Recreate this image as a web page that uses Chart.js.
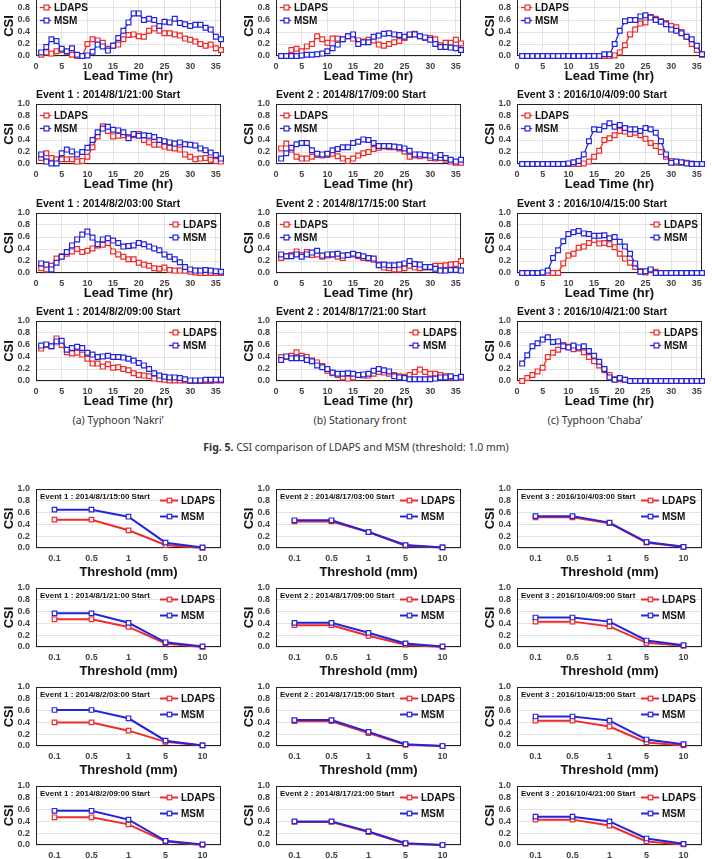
<!DOCTYPE html>
<html>
<head>
<meta charset="utf-8">
<title>CSI comparison of LDAPS and MSM</title>
<script src="https://cdn.jsdelivr.net/npm/chart.js@4.4.1/dist/chart.umd.min.js"></script>
<style>
  body { margin: 0; background: #fff; }
  #page { position: relative; width: 712px; height: 859px; overflow: hidden; }
  #page canvas { position: absolute; }
  .cap { position: absolute; font-family: "Noto Sans", sans-serif; font-size: 10.5px; color: #333; white-space: nowrap; transform: translateX(-50%); }
</style>
</head>
<body>
<div id="page">
  <div class="cap" style="left:118px; top:413px">(a) Typhoon ‘Nakri’</div>
  <div class="cap" style="left:360px; top:413px">(b) Stationary front</div>
  <div class="cap" style="left:595px; top:413px">(c) Typhoon ‘Chaba’</div>
  <div class="cap" style="left:356px; top:440px"><b>Fig. 5.</b> CSI comparison of LDAPS and MSM (threshold: 1.0 mm)</div>
</div>
<script>
// x values
const leadHours = [1,2,3,4,5,6,7,8,9,10,11,12,13,14,15,16,17,18,19,20,21,22,23,24,25,26,27,28,29,30,31,32,33,34,35,36];
const thresholds = ['0.1', '0.5', '1', '5', '10'];

const event1Starts = ['Event 1 : 2014/8/1/15:00 Start', 'Event 1 : 2014/8/1/21:00 Start', 'Event 1 : 2014/8/2/03:00 Start', 'Event 1 : 2014/8/2/09:00 Start'];
const event2Starts = ['Event 2 : 2014/8/17/03:00 Start', 'Event 2 : 2014/8/17/09:00 Start', 'Event 2 : 2014/8/17/15:00 Start', 'Event 2 : 2014/8/17/21:00 Start'];
const event3Starts = ['Event 3 : 2016/10/4/03:00 Start', 'Event 3 : 2016/10/4/09:00 Start', 'Event 3 : 2016/10/4/15:00 Start', 'Event 3 : 2016/10/4/21:00 Start'];

// Fig. 5 - CSI by lead time (threshold 1.0 mm)
const leadLdapsE1a = [0.02,0.06,0.04,0.08,0.10,0.07,0.02,0.00,0.00,0.20,0.28,0.26,0.22,0.12,0.17,0.19,0.28,0.35,0.36,0.33,0.32,0.42,0.46,0.42,0.38,0.38,0.36,0.34,0.29,0.27,0.24,0.20,0.17,0.19,0.13,0.10];
const leadMsmE1a   = [0.06,0.15,0.28,0.25,0.12,0.08,0.13,0.02,0.00,0.01,0.07,0.19,0.16,0.09,0.17,0.30,0.42,0.56,0.71,0.71,0.60,0.62,0.60,0.50,0.57,0.56,0.62,0.55,0.53,0.50,0.52,0.52,0.47,0.44,0.32,0.28];
const leadLdapsE1b = [0.10,0.18,0.10,0.08,0.08,0.08,0.08,0.04,0.05,0.12,0.28,0.46,0.63,0.55,0.46,0.47,0.48,0.45,0.48,0.50,0.40,0.36,0.32,0.32,0.29,0.27,0.26,0.24,0.16,0.12,0.08,0.09,0.10,0.07,0.05,0.04];
const leadMsmE1b   = [0.16,0.04,0.01,0.01,0.18,0.24,0.21,0.16,0.20,0.27,0.40,0.53,0.59,0.62,0.57,0.56,0.53,0.43,0.50,0.47,0.48,0.47,0.45,0.40,0.38,0.36,0.34,0.36,0.33,0.32,0.31,0.26,0.23,0.19,0.15,0.09];
const leadLdapsE1c = [0.08,0.06,0.12,0.24,0.28,0.32,0.36,0.40,0.35,0.37,0.41,0.46,0.47,0.50,0.36,0.31,0.27,0.23,0.23,0.17,0.14,0.12,0.08,0.07,0.09,0.05,0.04,0.04,0.04,0.02,0.01,0.00,0.00,0.00,0.00,0.00];
const leadMsmE1c   = [0.16,0.14,0.06,0.17,0.27,0.35,0.46,0.56,0.64,0.69,0.59,0.48,0.56,0.58,0.54,0.50,0.44,0.45,0.46,0.50,0.48,0.44,0.41,0.38,0.31,0.27,0.23,0.18,0.10,0.06,0.04,0.04,0.05,0.04,0.03,0.02];
const leadLdapsE1d = [0.54,0.60,0.58,0.71,0.60,0.48,0.46,0.47,0.44,0.37,0.29,0.29,0.24,0.28,0.22,0.23,0.20,0.18,0.13,0.10,0.09,0.08,0.04,0.03,0.02,0.01,0.01,0.01,0.01,0.00,0.00,0.00,0.00,0.00,0.01,0.01];
const leadMsmE1d   = [0.59,0.61,0.58,0.66,0.67,0.52,0.55,0.57,0.55,0.47,0.44,0.40,0.41,0.42,0.40,0.40,0.39,0.37,0.34,0.30,0.26,0.20,0.13,0.09,0.07,0.06,0.06,0.05,0.03,0.01,0.01,0.01,0.02,0.02,0.02,0.02];

const leadLdapsE2a = [0.00,0.00,0.10,0.12,0.08,0.16,0.20,0.33,0.28,0.22,0.29,0.29,0.28,0.33,0.29,0.26,0.24,0.27,0.26,0.19,0.17,0.20,0.23,0.25,0.30,0.35,0.37,0.33,0.30,0.30,0.28,0.18,0.22,0.22,0.27,0.21];
const leadMsmE2a   = [0.00,0.00,0.00,0.00,0.01,0.02,0.02,0.03,0.04,0.08,0.13,0.19,0.28,0.33,0.36,0.20,0.23,0.23,0.32,0.34,0.37,0.38,0.36,0.35,0.32,0.36,0.36,0.33,0.31,0.27,0.20,0.15,0.15,0.14,0.13,0.10];
const leadLdapsE2b = [0.26,0.34,0.24,0.12,0.09,0.09,0.12,0.15,0.14,0.15,0.17,0.13,0.09,0.05,0.09,0.14,0.18,0.20,0.25,0.27,0.29,0.28,0.28,0.26,0.21,0.12,0.14,0.13,0.14,0.10,0.09,0.10,0.07,0.04,0.02,0.02];
const leadMsmE2b   = [0.09,0.18,0.27,0.33,0.35,0.35,0.23,0.17,0.16,0.17,0.23,0.25,0.28,0.28,0.35,0.37,0.41,0.40,0.35,0.30,0.30,0.30,0.29,0.28,0.26,0.22,0.16,0.16,0.15,0.14,0.11,0.15,0.10,0.07,0.04,0.07];
const leadLdapsE2c = [0.25,0.28,0.30,0.36,0.30,0.35,0.30,0.31,0.27,0.29,0.31,0.27,0.25,0.30,0.31,0.28,0.25,0.24,0.22,0.14,0.09,0.08,0.06,0.06,0.08,0.12,0.09,0.08,0.09,0.09,0.12,0.12,0.13,0.14,0.15,0.20];
const leadMsmE2c   = [0.31,0.28,0.28,0.31,0.27,0.31,0.34,0.37,0.29,0.31,0.31,0.32,0.29,0.30,0.32,0.30,0.28,0.25,0.24,0.13,0.14,0.13,0.13,0.14,0.16,0.20,0.15,0.14,0.10,0.10,0.07,0.04,0.04,0.05,0.05,0.04];
const leadLdapsE2d = [0.40,0.40,0.42,0.48,0.42,0.40,0.34,0.31,0.25,0.17,0.13,0.10,0.06,0.04,0.06,0.10,0.09,0.09,0.12,0.15,0.14,0.12,0.10,0.08,0.07,0.10,0.15,0.19,0.15,0.12,0.12,0.10,0.08,0.06,0.05,0.05];
const leadMsmE2d   = [0.35,0.41,0.38,0.38,0.38,0.35,0.33,0.26,0.23,0.20,0.14,0.12,0.12,0.13,0.12,0.10,0.11,0.12,0.17,0.20,0.18,0.16,0.08,0.06,0.05,0.03,0.03,0.03,0.03,0.03,0.04,0.06,0.06,0.08,0.05,0.07];

const leadLdapsE3a = [0,0,0,0,0,0,0,0,0,0,0,0,0,0,0,0,0,0,0.01,0.06,0.18,0.36,0.44,0.54,0.56,0.65,0.62,0.58,0.55,0.50,0.48,0.40,0.32,0.20,0.10,0.02];
const leadMsmE3a   = [0,0,0,0,0,0,0,0,0,0,0,0,0,0,0,0,0.03,0.03,0.20,0.42,0.58,0.60,0.60,0.66,0.68,0.64,0.60,0.57,0.53,0.44,0.42,0.38,0.32,0.28,0.17,0.03];
const leadLdapsE3b = [0,0,0,0,0,0,0,0,0,0,0,0,0.01,0.04,0.12,0.22,0.40,0.43,0.48,0.55,0.54,0.50,0.52,0.48,0.42,0.35,0.30,0.20,0.12,0.05,0.02,0.02,0.02,0.01,0,0];
const leadMsmE3b   = [0,0,0,0,0,0,0,0,0,0.01,0.03,0.05,0.16,0.38,0.58,0.57,0.63,0.68,0.62,0.65,0.60,0.58,0.58,0.55,0.60,0.58,0.52,0.38,0.16,0.02,0.04,0.03,0.01,0,0,0];
const leadLdapsE3c = [0,0,0,0,0,0,0,0,0.16,0.29,0.32,0.42,0.44,0.50,0.55,0.49,0.50,0.48,0.43,0.32,0.24,0.17,0.10,0.03,0.01,0.05,0.02,0,0,0,0,0,0,0,0,0];
const leadMsmE3c   = [0,0,0,0,0.01,0.04,0.25,0.38,0.53,0.65,0.68,0.70,0.66,0.65,0.62,0.62,0.63,0.58,0.60,0.52,0.44,0.32,0.16,0.02,0.03,0.06,0,0,0,0,0,0,0,0,0,0];
const leadLdapsE3d = [0.00,0.05,0.10,0.16,0.22,0.40,0.47,0.52,0.60,0.57,0.53,0.54,0.48,0.40,0.33,0.26,0.18,0.10,0.03,0.03,0.02,0,0,0,0,0,0,0,0,0,0,0,0,0,0,0];
const leadMsmE3d   = [0.29,0.43,0.58,0.63,0.69,0.73,0.65,0.66,0.58,0.56,0.59,0.56,0.58,0.50,0.42,0.32,0.20,0.06,0.02,0.05,0.02,0,0,0,0,0,0,0,0,0,0,0,0,0,0,0];

// Fig. 6 - CSI by threshold
const thrLdapsE1a = [0.48,0.48,0.30,0.05,0.00], thrMsmE1a = [0.65,0.65,0.53,0.09,0.01];
const thrLdapsE1b = [0.47,0.47,0.34,0.06,0.00], thrMsmE1b = [0.57,0.57,0.41,0.08,0.01];
const thrLdapsE1c = [0.40,0.40,0.26,0.07,0.01], thrMsmE1c = [0.61,0.61,0.47,0.09,0.01];
const thrLdapsE1d = [0.47,0.47,0.35,0.06,0.00], thrMsmE1d = [0.58,0.58,0.43,0.07,0.01];
const thrLdapsE2a = [0.45,0.45,0.27,0.04,0.01], thrMsmE2a = [0.47,0.47,0.27,0.05,0.01];
const thrLdapsE2b = [0.37,0.37,0.19,0.04,0.00], thrMsmE2b = [0.41,0.41,0.24,0.06,0.01];
const thrLdapsE2c = [0.42,0.42,0.22,0.02,0.00], thrMsmE2c = [0.44,0.44,0.24,0.03,0.00];
const thrLdapsE2d = [0.39,0.39,0.22,0.02,0.00], thrMsmE2d = [0.40,0.40,0.23,0.03,0.00];
const thrLdapsE3a = [0.52,0.52,0.42,0.09,0.02], thrMsmE3a = [0.54,0.54,0.43,0.10,0.02];
const thrLdapsE3b = [0.43,0.43,0.35,0.07,0.02], thrMsmE3b = [0.50,0.50,0.43,0.11,0.03];
const thrLdapsE3c = [0.43,0.43,0.33,0.06,0.01], thrMsmE3c = [0.50,0.50,0.43,0.11,0.03];
const thrLdapsE3d = [0.43,0.43,0.33,0.06,0.01], thrMsmE3d = [0.48,0.48,0.40,0.11,0.02];

const RED = '#ef2b2b';
const BLUE = '#2424dd';
const FONT = '"Liberation Sans", Arial, sans-serif';

Chart.defaults.font.family = FONT;
Chart.defaults.color = '#333';

const page = document.getElementById('page');
const colLeft = [36, 276, 517];   // plot left edge per column
const plotW = 185;
const leadRowTop = [-4, 104, 213, 321];
const thrRowTop = [489, 588, 687, 786];

// black box round the plot area
const frame = {
  id: 'frame',
  beforeDatasetsDraw(chart) {
    const { ctx, chartArea: a } = chart;
    ctx.save();
    ctx.strokeStyle = '#222';
    ctx.lineWidth = 1;
    ctx.strokeRect(Math.round(a.left) + 0.5, Math.round(a.top) + 0.5, Math.round(a.width) - 1, Math.round(a.height) - 1);
    ctx.restore();
  }
};

// legend drawn inside the plot (line + square marker + label)
const insideLegend = {
  id: 'insideLegend',
  afterDatasetsDraw(chart, args, opts) {
    const { ctx, chartArea: a } = chart;
    const textX = opts.side === 'left' ? a.left + opts.inset : a.right - opts.inset;
    ctx.save();
    ctx.font = `bold ${opts.size}px ${FONT}`;
    ctx.textBaseline = 'middle';
    chart.data.datasets.forEach((ds, i) => {
      const y = Math.round(a.top + opts.top + i * opts.gap) + 0.5;
      const x1 = textX - 3, x0 = x1 - opts.line;
      const cx = Math.round((x0 + x1) / 2) + 0.5;
      const s = ds.pointRadius * Math.SQRT1_2;
      ctx.strokeStyle = ds.borderColor;
      ctx.lineWidth = ds.borderWidth;
      ctx.beginPath(); ctx.moveTo(x0, y); ctx.lineTo(x1, y); ctx.stroke();
      ctx.fillStyle = '#fff';
      ctx.lineWidth = ds.pointBorderWidth;
      ctx.fillRect(cx - s, y - s, 2 * s, 2 * s);
      ctx.strokeRect(cx - s, y - s, 2 * s, 2 * s);
      ctx.fillStyle = '#111';
      ctx.fillText(ds.label, textX, y + 0.5);
    });
    ctx.restore();
  }
};

// Fig. 6 titles sit inside the plot
const innerTitle = {
  id: 'innerTitle',
  afterDatasetsDraw(chart, args, opts) {
    if (!opts.text) return;
    const { ctx, chartArea: a } = chart;
    ctx.save();
    ctx.font = `bold ${opts.size}px ${FONT}`;
    ctx.textBaseline = 'middle';
    ctx.fillStyle = '#111';
    ctx.fillText(opts.text, a.left + opts.x, a.top + opts.y);
    ctx.restore();
  }
};

function addCanvas(left, top, w, h) {
  const cv = document.createElement('canvas');
  cv.width = w; cv.height = h;
  cv.style.left = left + 'px';
  cv.style.top = top + 'px';
  cv.style.width = w + 'px';
  cv.style.height = h + 'px';
  page.appendChild(cv);
  return cv;
}

function series(label, values, color, width, radius, order) {
  return {
    label, data: values, order,
    borderColor: color, backgroundColor: color, borderWidth: width,
    pointStyle: 'rect', pointRadius: radius, pointBorderWidth: 1.2,
    pointBackgroundColor: '#fff', pointBorderColor: color,
    tension: 0, clip: false
  };
}

const tickFont = { size: 9, weight: 'bold' };
const axisTitleFont = { size: 13, weight: 'bold' };

function csiAxis() {
  return {
    min: 0, max: 1,
    ticks: { stepSize: 0.2, autoSkip: false, padding: 6, font: tickFont, color: '#444', callback: v => v.toFixed(1) },
    grid: { color: '#e2e2e2', drawTicks: false },
    border: { display: false },
    title: { display: true, text: 'CSI', font: axisTitleFont, color: '#111', padding: { top: 2, bottom: 0 } },
    afterFit: s => { s.width = 36; s.paddingTop = 0; }
  };
}

function leadChart(col, row, ldaps, msm, title, side) {
  const top = leadRowTop[row];
  const cv = addCanvas(colLeft[col] - 36, top - 17, 36 + plotW + 6, 17 + 60 + 28);
  new Chart(cv, {
    type: 'line',
    data: {
      labels: leadHours,
      datasets: [series('LDAPS', ldaps, RED, 1.3, 3.4, 1), series('MSM', msm, BLUE, 1.3, 3.4, 0)]
    },
    options: {
      responsive: false, animation: false, devicePixelRatio: 1, events: [],
      layout: { padding: { left: 0, right: 6, top: 0, bottom: 0 } },
      scales: {
        x: {
          type: 'linear', min: 0, max: 36,
          ticks: { stepSize: 5, includeBounds: false, autoSkip: false, maxRotation: 0, padding: 5, font: tickFont, color: '#444' },
          grid: { color: '#e2e2e2', drawTicks: false },
          border: { display: false },
          title: { display: true, text: 'Lead Time (hr)', font: axisTitleFont, color: '#111', padding: 0 },
          afterFit: s => { s.height = 28; }
        },
        y: csiAxis()
      },
      plugins: {
        legend: { display: false },
        tooltip: { enabled: false },
        title: {
          display: true, text: title, align: 'start', fullSize: false,
          font: { size: 10.5, weight: 'bold' }, color: '#111', padding: { top: 2, bottom: 2.4 }
        },
        insideLegend: { side, inset: side === 'left' ? 18 : 38, top: 10.5, gap: 13.5, line: 11, size: 10 }
      }
    },
    plugins: [frame, insideLegend]
  });
}

function thresholdChart(col, row, ldaps, msm, title) {
  const top = thrRowTop[row];
  const cv = addCanvas(colLeft[col] - 36, top - 6, 36 + plotW + 6, 6 + 59 + 32);
  new Chart(cv, {
    type: 'line',
    data: {
      labels: thresholds,
      datasets: [series('LDAPS', ldaps, RED, 2, 3.2, 1), series('MSM', msm, BLUE, 2, 3.2, 0)]
    },
    options: {
      responsive: false, animation: false, devicePixelRatio: 1, events: [],
      layout: { padding: { left: 0, right: 6, top: 6, bottom: 0 } },
      scales: {
        x: {
          type: 'category', offset: true,
          ticks: { autoSkip: false, maxRotation: 0, padding: 5, font: tickFont, color: '#444' },
          grid: { display: false, drawTicks: false },
          border: { display: false },
          title: { display: true, text: 'Threshold (mm)', font: axisTitleFont, color: '#111', padding: 0 },
          afterFit: s => { s.height = 32; }
        },
        y: csiAxis()
      },
      plugins: {
        legend: { display: false },
        tooltip: { enabled: false },
        innerTitle: { text: title, x: 4, y: 8, size: 8 },
        insideLegend: { side: 'right', inset: 40, top: 11, gap: 15.5, line: 18, size: 10 }
      }
    },
    plugins: [frame, insideLegend, innerTitle]
  });
}

// Fig. 5
leadChart(0, 0, leadLdapsE1a, leadMsmE1a, event1Starts[0], 'left');
leadChart(0, 1, leadLdapsE1b, leadMsmE1b, event1Starts[1], 'left');
leadChart(0, 2, leadLdapsE1c, leadMsmE1c, event1Starts[2], 'right');
leadChart(0, 3, leadLdapsE1d, leadMsmE1d, event1Starts[3], 'right');
leadChart(1, 0, leadLdapsE2a, leadMsmE2a, event2Starts[0], 'left');
leadChart(1, 1, leadLdapsE2b, leadMsmE2b, event2Starts[1], 'left');
leadChart(1, 2, leadLdapsE2c, leadMsmE2c, event2Starts[2], 'left');
leadChart(1, 3, leadLdapsE2d, leadMsmE2d, event2Starts[3], 'right');
leadChart(2, 0, leadLdapsE3a, leadMsmE3a, event3Starts[0], 'left');
leadChart(2, 1, leadLdapsE3b, leadMsmE3b, event3Starts[1], 'left');
leadChart(2, 2, leadLdapsE3c, leadMsmE3c, event3Starts[2], 'right');
leadChart(2, 3, leadLdapsE3d, leadMsmE3d, event3Starts[3], 'right');

// Fig. 6
thresholdChart(0, 0, thrLdapsE1a, thrMsmE1a, event1Starts[0]);
thresholdChart(0, 1, thrLdapsE1b, thrMsmE1b, event1Starts[1]);
thresholdChart(0, 2, thrLdapsE1c, thrMsmE1c, event1Starts[2]);
thresholdChart(0, 3, thrLdapsE1d, thrMsmE1d, event1Starts[3]);
thresholdChart(1, 0, thrLdapsE2a, thrMsmE2a, event2Starts[0]);
thresholdChart(1, 1, thrLdapsE2b, thrMsmE2b, event2Starts[1]);
thresholdChart(1, 2, thrLdapsE2c, thrMsmE2c, event2Starts[2]);
thresholdChart(1, 3, thrLdapsE2d, thrMsmE2d, event2Starts[3]);
thresholdChart(2, 0, thrLdapsE3a, thrMsmE3a, event3Starts[0]);
thresholdChart(2, 1, thrLdapsE3b, thrMsmE3b, event3Starts[1]);
thresholdChart(2, 2, thrLdapsE3c, thrMsmE3c, event3Starts[2]);
thresholdChart(2, 3, thrLdapsE3d, thrMsmE3d, event3Starts[3]);
</script>
</body>
</html>
